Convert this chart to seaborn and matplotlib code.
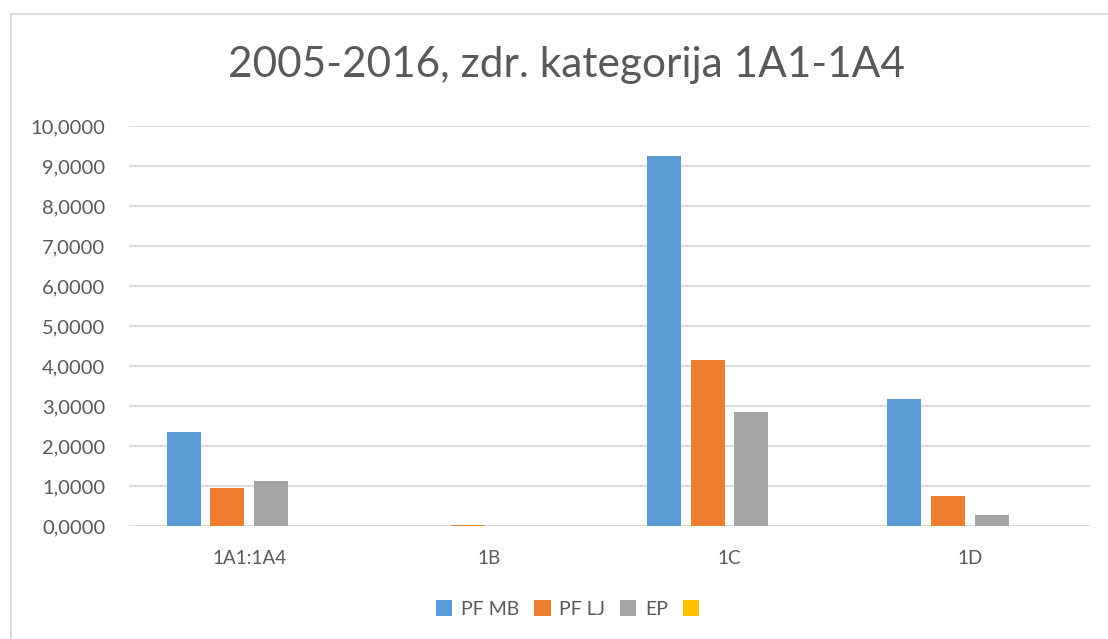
import matplotlib
matplotlib.use("Agg")
import matplotlib.pyplot as plt
import matplotlib.ticker as mticker
from matplotlib.lines import Line2D
from matplotlib.patches import Patch
import pandas as pd
import seaborn as sns

# values
categories = ["1A1:1A4", "1B", "1C", "1D"]
series = ["PF MB", "PF LJ", "EP", "(blank)"]
legend_labels = ["PF MB", "PF LJ", "EP", ""]
pf_mb = [2.36, 0.0, 9.26, 3.17]
pf_lj = [0.94, 0.015, 4.15, 0.75]
ep = [1.13, 0.0, 2.84, 0.27]
empty = [0.0, 0.0, 0.0, 0.0]
colors = ["#5B9BD5", "#ED7D31", "#A5A5A5", "#FFC000"]

rows = []
for name, vals in zip(series, [pf_mb, pf_lj, ep, empty]):
    for cat, v in zip(categories, vals):
        rows.append({"cat": cat, "series": name, "value": v})
df = pd.DataFrame(rows)

sns.set_style("white")
plt.rcParams["font.family"] = ["Lato", "DejaVu Sans"]
text_col = "#595959"
grid_col = "#D9D9D9"

fig = plt.figure(figsize=(11.08, 6.39), dpi=100)
ax = fig.add_axes([129 / 1108, 113 / 639, 961 / 1108, 400 / 639])

sns.barplot(data=df, x="cat", y="value", hue="series", hue_order=series,
            order=categories, palette=colors, width=0.727, gap=0.22,
            saturation=1, ax=ax, linewidth=0, legend=False)

ax.set_xlim(-0.5, 3.5)
ax.set_ylim(0, 10)
ax.set_yticks(range(0, 11))
ax.yaxis.set_major_formatter(mticker.FuncFormatter(lambda v, p: f"{v:.4f}".replace(".", ",")))
ax.set_xlabel("")
ax.set_ylabel("")
ax.grid(axis="y", color=grid_col, linewidth=1.3)
ax.set_axisbelow(True)
for s in ax.spines.values():
    s.set_visible(False)
ax.tick_params(axis="both", length=0, labelcolor=text_col)
ax.tick_params(axis="y", pad=17, labelsize=14.5)
ax.tick_params(axis="x", pad=17, labelsize=13.5)

# legend under the chart, including the unnamed yellow series
handles = [Patch(facecolor=c, edgecolor="none") for c in colors]
leg = fig.legend(handles, legend_labels, loc="center",
                 bbox_to_anchor=(572 / 1108, 30 / 639),
                 ncol=4, frameon=False, fontsize=14, handlelength=0.85,
                 handleheight=0.85, handletextpad=0.45, columnspacing=0.75)
for t in leg.get_texts():
    t.set_color(text_col)

fig.text(566 / 1108, 1 - 65 / 639, "2005-2016, zdr. kategorija 1A1-1A4",
         ha="center", va="center", fontsize=30.5, color=text_col)

# chart area border (left and top edges visible)
fig.add_artist(Line2D([11 / 1108, 11 / 1108], [0, 1 - 14 / 639],
                      transform=fig.transFigure, color=grid_col, linewidth=1.3))
fig.add_artist(Line2D([11 / 1108, 1], [1 - 14 / 639, 1 - 14 / 639],
                      transform=fig.transFigure, color=grid_col, linewidth=1.3))

fig.savefig("out.png", dpi=100, facecolor="white")
